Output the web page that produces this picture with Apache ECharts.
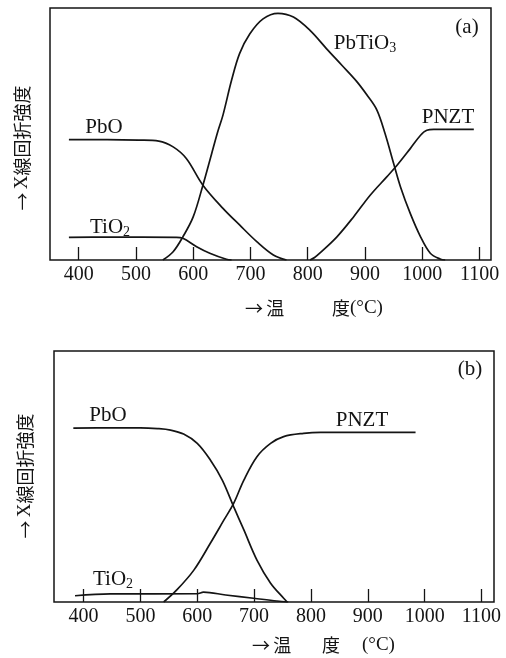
<!DOCTYPE html>
<html>
<head>
<meta charset="utf-8">
<script src="https://cdn.jsdelivr.net/npm/echarts@6/dist/echarts.min.js"></script>
<style>
  html, body { margin: 0; padding: 0; background: #fff; }
  #chart { width: 506px; height: 658px; }
</style>
</head>
<body>
<div id="chart"></div>
<script>
// X-ray diffraction intensity vs. firing temperature (°C), two preparation routes.
const tickTemps = [400, 500, 600, 700, 800, 900, 1000, 1100];

// Panel (a)
const pboA = [[383, 47.8], [450, 47.8], [505, 47.6], [540, 47.2], [565, 44.9], [588, 40.3], [617, 29.7], [652, 20.5], [681, 13.9], [711, 7.3], [740, 2.0], [763, 0]];
const tio2A = [[383, 9.0], [450, 9.1], [571, 9.0], [582, 8.6], [606, 5.3], [629, 2.7], [658, 0.3], [667, 0]];
const pbtio3A = [[547, 0], [565, 3.3], [582, 9.2], [600, 17.1], [617, 29.7], [632, 42], [643, 51], [652, 57.5], [667, 71.3], [681, 81.9], [699, 89.8], [722, 95.7], [748, 97.9], [775, 96.4], [804, 91.1], [833, 83.8], [860, 77.2], [885, 71.0], [905, 65.0], [921, 59.4], [935, 50.2], [950, 38.3], [962, 29], [979, 18.5], [997, 9.2], [1014, 2.7], [1032, 0.3], [1040, 0]];
const pnztA = [[804, 0], [812, 1.0], [821, 2.7], [851, 9.2], [880, 17.1], [909, 25.7], [938, 33], [956, 37.6], [979, 44.2], [997, 49.5], [1008, 51.5], [1020, 51.8], [1090, 51.8]];

// Panel (b)
const pboB = [[382, 69.3], [450, 69.4], [500, 69.4], [530, 69.1], [553, 68.5], [576, 66.9], [600, 63.2], [623, 56.6], [644, 48.6], [664, 38.0], [682, 28.7], [705, 16.7], [729, 7.5], [752, 1.5], [758, 0]];
const tio2B = [[385, 2.5], [447, 3.2], [600, 3.3], [611, 3.9], [650, 2.8], [699, 1.5], [740, 0.4], [760, 0]];
const pnztB = [[541, 0], [564, 4.8], [594, 12.7], [623, 23.4], [647, 32.7], [664, 39.3], [682, 48.6], [705, 57.9], [729, 63.2], [752, 65.9], [787, 67.2], [817, 67.6], [984, 67.6]];

const SERIF = '"Liberation Serif", "DejaVu Serif", "Noto Sans CJK JP"';
const CJK = '"Noto Sans CJK JP", "Noto Sans CJK SC"';
const INK = '#141414';

function xAxisFor(gridIndex, min, max) {
  return {
    type: 'value', gridIndex, min, max,
    axisLine: { show: false },
    splitLine: { show: false },
    axisTick: { show: true, inside: true, length: 13, customValues: tickTemps, lineStyle: { color: INK, width: 1.3 } },
    axisLabel: { show: true, customValues: tickTemps, margin: 5, color: INK, fontFamily: SERIF, fontSize: 20, formatter: v => String(v) }
  };
}
function yAxisFor(gridIndex) {
  return {
    type: 'value', gridIndex, min: 0, max: 100,
    axisLine: { show: false }, axisTick: { show: false }, axisLabel: { show: false }, splitLine: { show: false }
  };
}
function curve(data, idx) {
  return {
    type: 'line', data, xAxisIndex: idx, yAxisIndex: idx,
    symbol: 'none', smooth: 0.35, lineStyle: { color: INK, width: 1.7 }
  };
}
// Text styles: serif latin, CJK arrow/kanji, and lowered subscript digits
const richStyles = {
  ar: { fontFamily: CJK, fontSize: 18, fill: INK },
  kj: { fontFamily: CJK, fontSize: 18, fill: INK },
  la: { fontFamily: SERIF, fontSize: 19, fill: INK },
  m: { fontFamily: SERIF, fontSize: 21, fill: INK, lineHeight: 24 },
  s: { fontFamily: SERIF, fontSize: 14, fill: INK, lineHeight: 24, verticalAlign: 'bottom', padding: [9, 0, 0, 0] }
};
function label(text, x, y) {
  return { type: 'text', x, y, style: { text, rich: richStyles, align: 'center', verticalAlign: 'middle' } };
}
function yTitle(x, y) {
  return {
    type: 'text', x, y, rotation: Math.PI / 2,
    style: { text: '{ar|→} {la|X}{kj|線回折強度}', rich: richStyles, align: 'center', verticalAlign: 'middle' }
  };
}
function piece(text, x, y) {
  return { type: 'text', x, y, style: { text, rich: richStyles, align: 'left', verticalAlign: 'middle' } };
}

const chart = echarts.init(document.getElementById('chart'), null, { renderer: 'canvas' });
chart.setOption({
  animation: false,
  backgroundColor: '#fff',
  grid: [
    { left: 50, top: 8, width: 441, height: 252, show: true, borderColor: INK, borderWidth: 1.5, backgroundColor: 'transparent' },
    { left: 54, top: 351, width: 440, height: 251, show: true, borderColor: INK, borderWidth: 1.5, backgroundColor: 'transparent' }
  ],
  xAxis: [xAxisFor(0, 350, 1120), xAxisFor(1, 348, 1122)],
  yAxis: [yAxisFor(0), yAxisFor(1)],
  series: [
    curve(pboA, 0), curve(tio2A, 0), curve(pbtio3A, 0), curve(pnztA, 0),
    curve(pboB, 1), curve(tio2B, 1), curve(pnztB, 1)
  ],
  graphic: [
    // panel (a) annotations
    label('{m|(a)}', 467, 27),
    label('{m|PbO}', 104, 127),
    label('{m|TiO}{s|2}', 110, 227),
    label('{m|PbTiO}{s|3}', 365, 43),
    label('{m|PNZT}', 448, 117),
    yTitle(22, 148),
    piece('{ar|→} {kj|温}', 245, 308),
    piece('{kj|度}{la|(°C)}', 332, 308),
    // panel (b) annotations
    label('{m|(b)}', 470, 369),
    label('{m|PbO}', 108, 415),
    label('{m|TiO}{s|2}', 113, 579),
    label('{m|PNZT}', 362, 420),
    yTitle(25, 476),
    piece('{ar|→} {kj|温}', 252, 645),
    piece('{kj|度}', 322, 645),
    piece('{la|(°C)}', 362, 645)
  ]
});
</script>
</body>
</html>
